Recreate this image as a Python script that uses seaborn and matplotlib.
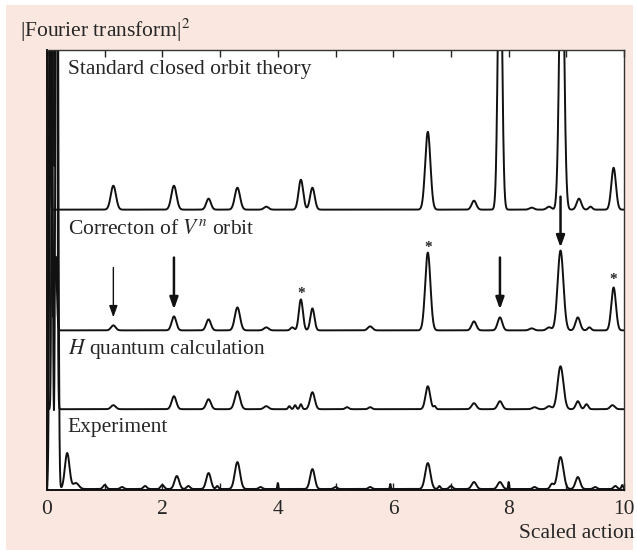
import numpy as np
import pandas as pd
import matplotlib
matplotlib.use("Agg")
import matplotlib.pyplot as plt
import seaborn as sns
from matplotlib.patches import Rectangle

# ---------------- data ----------------
# peak positions (scaled action), heights (arbitrary units), widths
std_pos    = [0.03, 1.15, 2.2, 2.8, 3.3, 3.8, 4.4, 4.6, 6.6, 7.4, 7.85, 8.4, 8.7, 8.92, 9.22, 9.42, 9.82]
std_height = [900, 24, 24, 11, 22, 3, 30, 22, 78, 9, 300, 2, 3, 300, 11, 3, 42]
std_width  = [0.015, 0.045, 0.045, 0.04, 0.045, 0.04, 0.04, 0.04, 0.045, 0.04, 0.035, 0.04, 0.04, 0.04, 0.04, 0.03, 0.04]

corr_pos    = [0.06, 0.15, 1.15, 2.2, 2.8, 3.3, 3.8, 4.25, 4.4, 4.6, 5.6, 6.6, 7.4, 7.85, 8.4, 8.7, 8.9, 9.2, 9.4, 9.82]
corr_height = [900, 74, 5, 14, 11, 23, 3, 3, 31, 22, 4, 78, 9, 13, 2, 3, 80, 13, 3, 43]
corr_width  = [0.015, 0.02, 0.04, 0.04, 0.04, 0.045, 0.04, 0.03, 0.035, 0.035, 0.04, 0.045, 0.04, 0.04, 0.04, 0.04, 0.05, 0.04, 0.03, 0.04]

h_pos    = [0.1, 0.16, 1.15, 2.2, 2.8, 3.3, 3.8, 4.2, 4.3, 4.4, 4.6, 5.2, 5.6, 6.6, 6.72, 7.4, 7.85, 8.45, 8.7, 8.9, 9.2, 9.35, 9.8]
h_height = [900, 900, 4, 13, 10, 18, 3, 3, 4, 5, 17, 2, 2, 23, 3, 6, 8, 2, 3, 43, 8, 5, 4]
h_width  = [0.015, 0.015, 0.04, 0.04, 0.04, 0.045, 0.04, 0.02, 0.02, 0.02, 0.04, 0.03, 0.03, 0.04, 0.02, 0.04, 0.04, 0.04, 0.04, 0.05, 0.035, 0.03, 0.04]

exp_pos    = [0.07, 0.17, 0.35, 0.5, 1.0, 1.3, 1.7, 2.0, 2.25, 2.45, 2.8, 2.95, 3.3, 3.7, 4.0, 4.6, 5.0, 5.6, 5.95, 6.6, 6.8, 7.0, 7.4, 7.85, 8.0, 8.45, 8.75, 8.9, 9.2, 9.5, 9.85, 9.97]
exp_height = [900, 900, 36, 6, 4, 2, 3, 4, 13, 3, 16, 3, 27, 2, 6, 20, 2, 2, 5, 26, 3, 3, 7, 7, 7, 2, 5, 32, 12, 2, 3, 4]
exp_width  = [0.02, 0.02, 0.04, 0.05, 0.03, 0.03, 0.03, 0.03, 0.04, 0.03, 0.04, 0.02, 0.045, 0.03, 0.008, 0.04, 0.03, 0.03, 0.008, 0.045, 0.02, 0.03, 0.04, 0.04, 0.008, 0.03, 0.03, 0.05, 0.04, 0.03, 0.03, 0.015]

labels = ["Standard closed orbit theory", "Correcton of $V^n$ orbit",
          "$H$ quantum calculation", "Experiment"]
offsets = [280, 159, 80, 0]

arrow_x = [1.15, 2.2, 7.85, 8.9]
arrow_top = [222, 232, 232, 293]
arrow_tip = [172, 180, 180, 242]
arrow_lw = [1.0, 1.8, 1.8, 1.8]
star_x = [4.4, 6.6, 9.82]
star_y = [196, 242, 210]

xticks = list(range(0, 11))

# ---------------- build curves ----------------
x = np.linspace(0, 10, 4001)

def curve(pos, height, width):
    y = np.zeros_like(x)
    for p, h, w in zip(pos, height, width):
        y += h * np.exp(-0.5 * ((x - p) / w) ** 2)
    return y

series = [(std_pos, std_height, std_width), (corr_pos, corr_height, corr_width),
          (h_pos, h_height, h_width), (exp_pos, exp_height, exp_width)]
frames = []
for (p, h, w), lab, off in zip(series, labels, offsets):
    frames.append(pd.DataFrame({"x": x, "y": curve(p, h, w) + off, "series": lab}))
df = pd.concat(frames, ignore_index=True)

# ---------------- style ----------------
sns.set_style("ticks")
plt.rcParams["font.family"] = ["Liberation Serif", "DejaVu Serif"]
plt.rcParams["mathtext.fontset"] = "stix"
FS = 15.5

fig = plt.figure(figsize=(6.37, 5.51), dpi=100)
fig.patch.set_facecolor("white")
fig.patches.append(Rectangle((6 / 637, 1 - 550 / 551), 627 / 637, 545 / 551,
                             transform=fig.transFigure, facecolor="#FAE8E0",
                             edgecolor="none", zorder=-10))
ax = fig.add_axes([47 / 637, 1 - 490 / 551, 577 / 637, 440 / 551])
ax.set_facecolor("white")

for lab in labels:
    sns.lineplot(data=df[df["series"] == lab], x="x", y="y", ax=ax,
                 color="#111111", linewidth=1.4, legend=False)

ax.set_xlim(0, 10)
ax.set_ylim(-1, 440)
ax.set_xlabel("")
ax.set_ylabel("")
ax.set_yticks([])
ax.set_xticks(xticks)
ax.set_xticklabels([str(t) if t % 2 == 0 else "" for t in xticks], fontsize=FS)
ax.tick_params(axis="x", direction="in", top=True, bottom=True, length=5,
               width=1, color="#222222", pad=7)
for s in ["left", "bottom"]:
    ax.spines[s].set_color("#111111")
    ax.spines[s].set_linewidth(1.4)
for s in ["top", "right"]:
    ax.spines[s].set_color("#333333")
    ax.spines[s].set_linewidth(1.0)

label_y = [420, 260, 140, 62]
for lab, ly in zip(labels, label_y):
    ax.text(0.36, ly, lab, fontsize=FS, va="center", ha="left")

for ax_x, top, tip, lw in zip(arrow_x, arrow_top, arrow_tip, arrow_lw):
    ax.annotate("", xy=(ax_x, tip), xytext=(ax_x, top),
                arrowprops=dict(arrowstyle="-|>,head_length=0.7,head_width=0.25",
                                color="#111111", lw=lw, shrinkA=0, shrinkB=0))
for sx, sy in zip(star_x, star_y):
    ax.text(sx, sy, "*", fontsize=11, ha="center", va="center", fontweight="bold")

fig.text(20 / 637, 1 - 30 / 551, "|Fourier transform|$^2$", fontsize=FS,
         ha="left", va="center")
fig.text(634 / 637, 1 - 533 / 551, "Scaled action", fontsize=FS,
         ha="right", va="center")

fig.savefig("out.png", dpi=100, facecolor=fig.get_facecolor())
